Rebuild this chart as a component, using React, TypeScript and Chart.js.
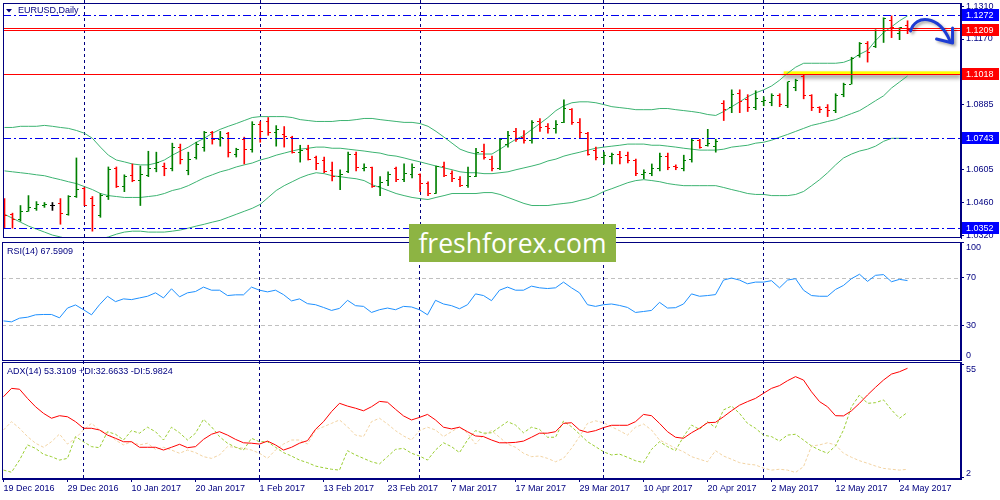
import { useEffect, useRef } from "react"
import { Chart, registerables } from "chart.js"

Chart.register(...registerables)

// EURUSD daily, 19 Dec 2016 .. 25 May 2017 (bar index 0..113)
const priceOpen = [
  1.047, 1.0411, 1.039, 1.0424, 1.0437, 1.0449, 1.0449, 1.0458, 1.0411, 1.0488,
  1.0522, 1.0479, 1.0407, 1.0488, 1.0608, 1.0531, 1.0578, 1.0556, 1.0578, 1.0608,
  1.062, 1.0608, 1.0702, 1.0599, 1.0659, 1.0702, 1.0766, 1.0736, 1.0762, 1.0672,
  1.0736, 1.0693, 1.08, 1.0812, 1.0766, 1.0757, 1.0745, 1.068, 1.0693, 1.0659,
  1.0642, 1.0599, 1.0574, 1.0595, 1.0672, 1.0608, 1.0612, 1.0531, 1.0556, 1.0608,
  1.0561, 1.0582, 1.0582, 1.0544, 1.0501, 1.0616, 1.0586, 1.0561, 1.0535, 1.0574,
  1.0684, 1.065, 1.0608, 1.0715, 1.077, 1.0745, 1.0732, 1.0812, 1.0791, 1.0783,
  1.0808, 1.0864, 1.0808, 1.0762, 1.0689, 1.0659, 1.0663, 1.0672, 1.0667, 1.0646,
  1.0582, 1.0586, 1.0608, 1.0663, 1.062, 1.0608, 1.065, 1.0732, 1.071, 1.0706,
  1.089, 1.0873, 1.0933, 1.0907, 1.0873, 1.0899, 1.0894, 1.0924, 1.0881, 1.0962,
  1.1009, 1.0924, 1.0873, 1.0873, 1.086, 1.0929, 1.0975, 1.11, 1.115, 1.1137,
  1.1206, 1.1249, 1.1193, 1.1227,
]
const priceHigh = [
  1.0479, 1.0416, 1.0449, 1.0492, 1.0466, 1.0462, 1.0462, 1.0479, 1.0492, 1.0655,
  1.0527, 1.0488, 1.0501, 1.0616, 1.0616, 1.0582, 1.0629, 1.062, 1.0684, 1.068,
  1.0633, 1.0719, 1.0715, 1.068, 1.0723, 1.077, 1.077, 1.077, 1.0766, 1.0697,
  1.0745, 1.0812, 1.0812, 1.083, 1.0795, 1.0791, 1.0749, 1.071, 1.071, 1.0663,
  1.0659, 1.0637, 1.0604, 1.068, 1.068, 1.0629, 1.0616, 1.0574, 1.0595, 1.0616,
  1.0629, 1.0629, 1.0586, 1.0552, 1.062, 1.0637, 1.0599, 1.0574, 1.0616, 1.0697,
  1.0715, 1.0663, 1.0736, 1.077, 1.0783, 1.0774, 1.0817, 1.0825, 1.0804, 1.0817,
  1.0907, 1.0869, 1.0825, 1.0766, 1.0702, 1.068, 1.0676, 1.0684, 1.068, 1.065,
  1.0604, 1.0629, 1.0676, 1.0676, 1.0625, 1.0667, 1.0736, 1.0736, 1.0779, 1.0736,
  1.0903, 1.095, 1.095, 1.0929, 1.0946, 1.092, 1.0933, 1.0933, 1.0984, 1.0996,
  1.1014, 1.0929, 1.0877, 1.0886, 1.0933, 1.0979, 1.1091, 1.1155, 1.1159, 1.121,
  1.1262, 1.127, 1.1219, 1.1249,
]
const priceLow = [
  1.0351, 1.0351, 1.0381, 1.0424, 1.0428, 1.0441, 1.0428, 1.0368, 1.0407, 1.0484,
  1.0449, 1.0338, 1.0398, 1.0475, 1.0527, 1.0509, 1.0552, 1.0449, 1.0574, 1.0595,
  1.0578, 1.0599, 1.0629, 1.0582, 1.065, 1.0684, 1.0715, 1.0706, 1.0659, 1.0659,
  1.0629, 1.068, 1.0723, 1.0753, 1.0706, 1.0702, 1.0676, 1.0637, 1.0646, 1.0604,
  1.0591, 1.0556, 1.0518, 1.0591, 1.0599, 1.0599, 1.0527, 1.0492, 1.0535, 1.0552,
  1.0552, 1.0569, 1.0509, 1.0492, 1.0501, 1.0574, 1.0552, 1.0531, 1.0527, 1.0574,
  1.065, 1.0599, 1.0604, 1.0702, 1.0727, 1.0719, 1.0719, 1.077, 1.0762, 1.0762,
  1.0808, 1.08, 1.074, 1.0667, 1.0646, 1.0629, 1.0629, 1.0629, 1.0633, 1.0578,
  1.0565, 1.0578, 1.0599, 1.0604, 1.0604, 1.0599, 1.0637, 1.0697, 1.0706, 1.068,
  1.0817, 1.0851, 1.0851, 1.0856, 1.0864, 1.0881, 1.0881, 1.0877, 1.0873, 1.0946,
  1.0911, 1.086, 1.0851, 1.0834, 1.0851, 1.092, 1.0975, 1.1091, 1.107, 1.1133,
  1.1155, 1.1176, 1.1167, 1.1193,
]
const priceClose = [
  1.0407, 1.039, 1.0424, 1.0441, 1.0453, 1.0453, 1.0449, 1.0416, 1.0488, 1.0518,
  1.0449, 1.0449, 1.0492, 1.0604, 1.0531, 1.0574, 1.0556, 1.0582, 1.0608, 1.0637,
  1.0608, 1.0702, 1.065, 1.065, 1.0715, 1.0766, 1.0736, 1.0745, 1.068, 1.0693,
  1.0693, 1.08, 1.077, 1.0766, 1.0779, 1.0749, 1.068, 1.0689, 1.065, 1.0629,
  1.0595, 1.0574, 1.0582, 1.0672, 1.0612, 1.0612, 1.0531, 1.0548, 1.0582, 1.0561,
  1.0586, 1.0612, 1.0544, 1.0501, 1.062, 1.0578, 1.0565, 1.0535, 1.0574, 1.068,
  1.0659, 1.0608, 1.0736, 1.0753, 1.0736, 1.0732, 1.0808, 1.0787, 1.0783, 1.08,
  1.0869, 1.0808, 1.0766, 1.0672, 1.0659, 1.0667, 1.0672, 1.0659, 1.0646, 1.0586,
  1.0591, 1.0608, 1.0663, 1.0612, 1.0612, 1.0646, 1.0732, 1.0702, 1.0719, 1.0727,
  1.0864, 1.0929, 1.0899, 1.0873, 1.0911, 1.0903, 1.0924, 1.0886, 1.0984, 1.0992,
  1.0924, 1.0873, 1.0864, 1.086, 1.0924, 1.0975, 1.1087, 1.115, 1.1112, 1.1206,
  1.1257, 1.1219, 1.1219, 1.121,
]

// Bollinger bands
const bbUpper = [
  1.0787, 1.0787, 1.0792, 1.0792, 1.0792, 1.0796, 1.0792, 1.0787, 1.0783, 1.0774,
  1.0762, 1.074, 1.0702, 1.0667, 1.0646, 1.0638, 1.0629, 1.0625, 1.0625, 1.0633,
  1.0646, 1.0667, 1.0685, 1.0702, 1.0723, 1.074, 1.0762, 1.0779, 1.0792, 1.0804,
  1.0817, 1.083, 1.0834, 1.0834, 1.0834, 1.0834, 1.083, 1.0821, 1.0817, 1.0813,
  1.0813, 1.0813, 1.0817, 1.0817, 1.0821, 1.0826, 1.0826, 1.0821, 1.0817, 1.0813,
  1.0809, 1.0809, 1.0804, 1.0792, 1.077, 1.0745, 1.0719, 1.0693, 1.068, 1.0672,
  1.0672, 1.0672, 1.0693, 1.0715, 1.0736, 1.0753, 1.0779, 1.0804, 1.083, 1.086,
  1.0881, 1.0894, 1.0898, 1.0898, 1.0894, 1.0886, 1.0877, 1.0873, 1.0869, 1.0864,
  1.0864, 1.0864, 1.0869, 1.0869, 1.0864, 1.086, 1.0856, 1.0851, 1.0843, 1.0839,
  1.0856, 1.0877, 1.0898, 1.092, 1.0937, 1.095, 1.0967, 1.0992, 1.1022, 1.1048,
  1.1065, 1.1065, 1.1065, 1.1065, 1.1065, 1.1069, 1.1082, 1.1104, 1.1121, 1.1163,
  1.1198, 1.1223, 1.1249, 1.127,
]
const bbMiddle = [
  1.0599, 1.0595, 1.0591, 1.0587, 1.0582, 1.0578, 1.0569, 1.0561, 1.0552, 1.0544,
  1.0531, 1.0518, 1.0501, 1.0492, 1.0488, 1.0484, 1.0484, 1.0484, 1.0488, 1.0492,
  1.0501, 1.0514, 1.0522, 1.0535, 1.0552, 1.0569, 1.0582, 1.0595, 1.0604, 1.0616,
  1.0625, 1.0633, 1.0646, 1.0655, 1.0667, 1.0676, 1.0685, 1.0693, 1.0697, 1.0702,
  1.0702, 1.0697, 1.0697, 1.0693, 1.0689, 1.0685, 1.068, 1.0676, 1.0667, 1.0663,
  1.0655, 1.0646, 1.0638, 1.0629, 1.062, 1.0612, 1.0604, 1.0595, 1.0591, 1.0591,
  1.0587, 1.0587, 1.0591, 1.0595, 1.0604, 1.0612, 1.062, 1.0629, 1.0642, 1.065,
  1.0663, 1.0672, 1.068, 1.0689, 1.0697, 1.0702, 1.0706, 1.071, 1.0715, 1.0715,
  1.0715, 1.071, 1.071, 1.0706, 1.0702, 1.0697, 1.0693, 1.0689, 1.0689, 1.0689,
  1.0693, 1.0702, 1.0706, 1.071, 1.0719, 1.0723, 1.0732, 1.0745, 1.0757, 1.077,
  1.0783, 1.0796, 1.0804, 1.0813, 1.0821, 1.0834, 1.0847, 1.086, 1.0881, 1.0903,
  1.0924, 1.0958, 1.0984, 1.101,
]
const bbLower = [
  1.0411, 1.0394, 1.0377, 1.036, 1.0347, 1.0334, 1.0321, 1.0313, 1.0304, 1.03,
  1.0296, 1.03, 1.0304, 1.0313, 1.0325, 1.0334, 1.0338, 1.0338, 1.0334, 1.0334,
  1.0334, 1.0338, 1.0343, 1.0351, 1.036, 1.0368, 1.0377, 1.0385, 1.0398, 1.0411,
  1.0424, 1.0437, 1.0454, 1.0484, 1.0514, 1.0535, 1.0552, 1.0569, 1.0582, 1.0591,
  1.0587, 1.0578, 1.0574, 1.0569, 1.0565, 1.0557, 1.0539, 1.0527, 1.0514, 1.0501,
  1.0492, 1.0484, 1.0479, 1.0475, 1.0484, 1.0492, 1.0501, 1.0501, 1.0501, 1.0501,
  1.0505, 1.0505, 1.0497, 1.0484, 1.0471, 1.0458, 1.0449, 1.0449, 1.0449, 1.0454,
  1.0458, 1.0462, 1.0471, 1.0479, 1.0492, 1.051, 1.0522, 1.0535, 1.0548, 1.0557,
  1.0561, 1.0557, 1.0552, 1.0544, 1.0539, 1.0535, 1.0535, 1.0535, 1.0535, 1.0535,
  1.0527, 1.0518, 1.051, 1.0501, 1.0497, 1.0497, 1.0492, 1.0492, 1.0492, 1.0497,
  1.051, 1.0535, 1.0561, 1.0591, 1.0625, 1.0655, 1.0672, 1.0685, 1.0693, 1.0706,
  1.0727, 1.074, 1.074, 1.074,
]

const rsi = [
  33.7, 32.9, 36.0, 36.8, 38.8, 39.1, 39.1, 36.3, 44.5, 47.1,
  43.1, 38.8, 47.3, 54.4, 49.9, 52.2, 51.6, 53.0, 54.4, 57.3,
  53.0, 60.7, 53.9, 57.3, 58.4, 62.1, 59.5, 59.5, 55.0, 55.6,
  55.6, 62.1, 59.5, 58.1, 59.5, 55.8, 50.5, 52.2, 48.2, 47.3,
  45.0, 42.5, 44.2, 51.0, 46.5, 45.9, 40.8, 43.1, 44.5, 43.1,
  45.9, 45.4, 43.1, 38.8, 51.0, 47.9, 46.5, 43.9, 47.3, 56.4,
  55.0, 50.7, 59.5, 62.1, 59.5, 59.5, 62.9, 61.5, 60.9, 61.5,
  66.3, 61.5, 57.3, 47.3, 45.9, 47.3, 47.9, 46.7, 45.0, 40.8,
  41.6, 42.5, 49.3, 44.5, 44.8, 47.9, 56.4, 54.4, 55.0, 55.8,
  68.0, 69.7, 68.0, 64.9, 66.3, 66.3, 67.5, 61.5, 68.0, 69.2,
  59.5, 55.0, 54.4, 54.4, 60.1, 63.5, 69.2, 72.9, 66.9, 72.0,
  72.6, 66.6, 68.6, 67.59,
]
const adx = [
  40.0, 43.9, 43.5, 39.2, 35.3, 32.2, 29.9, 31.1, 30.6, 28.3,
  25.2, 25.2, 24.4, 22.0, 20.5, 18.9, 18.9, 16.3, 16.3, 16.3,
  15.0, 16.3, 17.7, 16.1, 16.6, 20.0, 22.4, 23.6, 22.0, 20.0,
  18.4, 18.2, 17.8, 19.2, 17.4, 15.0, 16.3, 18.2, 19.4, 24.7,
  28.3, 33.0, 36.9, 35.6, 34.6, 33.4, 35.3, 37.8, 37.4, 34.1,
  31.0, 29.1, 30.3, 31.7, 29.1, 25.7, 24.9, 25.7, 23.6, 21.6,
  21.3, 19.7, 18.4, 18.4, 18.6, 19.2, 21.0, 22.9, 22.9, 23.6,
  27.5, 27.8, 24.4, 23.3, 24.1, 25.5, 26.6, 26.6, 26.6, 28.3,
  31.7, 31.1, 27.5, 23.6, 21.0, 20.5, 23.1, 25.2, 27.8, 28.0,
  30.6, 33.4, 36.0, 37.7, 39.2, 41.6, 43.9, 45.2, 47.5, 49.4,
  47.8, 42.3, 37.7, 35.3, 31.1, 31.0, 33.4, 36.9, 40.8, 44.4,
  47.8, 50.6, 51.7, 53.31,
]
const plusDi = [
  5.6, 4.6, 10.3, 17.4, 15.8, 13.0, 11.9, 10.3, 11.1, 21.3,
  18.9, 16.6, 16.1, 23.6, 22.4, 19.7, 24.1, 22.9, 25.7, 23.6,
  19.7, 25.7, 23.1, 19.7, 22.9, 29.4, 25.9, 21.3, 18.2, 16.3,
  15.0, 20.5, 18.9, 18.9, 16.3, 13.8, 12.2, 10.3, 9.1, 7.5,
  6.7, 6.0, 5.6, 14.7, 12.7, 11.1, 9.5, 8.5, 11.9, 15.3,
  15.8, 13.5, 12.2, 10.3, 15.0, 18.4, 16.6, 13.8, 19.7, 24.1,
  22.9, 23.1, 25.7, 28.3, 26.7, 23.1, 25.7, 24.7, 21.0, 21.0,
  28.6, 25.9, 22.5, 18.9, 16.6, 14.2, 12.7, 13.1, 11.6, 10.0,
  9.1, 15.3, 18.9, 16.6, 14.7, 21.3, 26.7, 24.7, 28.3, 25.5,
  33.8, 35.6, 32.2, 27.5, 25.2, 22.0, 21.3, 19.2, 22.0, 22.4,
  19.7, 16.9, 15.0, 13.5, 16.9, 24.4, 35.3, 40.8, 36.9, 37.2,
  38.5, 33.8, 29.9, 32.66,
]
const minusDi = [
  24.4, 28.3, 25.2, 21.3, 18.2, 16.3, 18.9, 22.5, 17.8, 20.5,
  24.4, 27.5, 24.4, 22.9, 19.7, 17.4, 18.9, 17.4, 18.2, 15.3,
  16.3, 15.0, 13.5, 15.0, 13.8, 11.9, 11.1, 12.7, 16.6, 16.3,
  15.8, 15.0, 13.5, 11.1, 15.0, 17.8, 19.7, 19.7, 17.8, 24.4,
  25.9, 27.5, 29.1, 25.9, 22.0, 21.3, 28.3, 29.9, 27.2, 24.1,
  21.6, 19.7, 24.1, 25.7, 24.4, 21.3, 23.6, 25.9, 22.9, 17.8,
  22.0, 24.1, 21.0, 17.8, 16.3, 13.5, 11.9, 12.2, 11.1, 9.5,
  11.1, 15.8, 21.3, 27.5, 28.7, 27.8, 25.9, 24.1, 22.0, 25.7,
  27.2, 24.4, 19.7, 17.8, 15.8, 14.2, 11.9, 10.7, 9.5, 14.7,
  12.2, 10.7, 9.1, 8.4, 8.0, 6.5, 5.6, 6.0, 5.6, 4.5,
  7.2, 16.9, 17.4, 18.4, 17.4, 13.5, 11.6, 10.0, 8.8, 7.5,
  6.4, 6.0, 5.6, 5.98,
]

const tickBars = [0, 8, 16, 24, 32, 40, 48, 56, 64, 72, 80, 88, 96, 104, 112]
const tickLabels = [
  "19 Dec 2016", "29 Dec 2016", "10 Jan 2017", "20 Jan 2017", "1 Feb 2017",
  "13 Feb 2017", "23 Feb 2017", "7 Mar 2017", "17 Mar 2017", "29 Mar 2017",
  "10 Apr 2017", "20 Apr 2017", "2 May 2017", "12 May 2017", "24 May 2017",
]
const monthStarts = [10, 32, 52, 75, 95]
const priceTicks = [1.131, 1.117, 1.103, 1.0885, 1.0745, 1.0605, 1.046, 1.032]
const rsiTicks = [0, 30, 70, 100]
const rsiLevels = [30, 70]
const adxTicks = [2, 55]

const redLevels = [1.1218, 1.1209, 1.1018]
const blueLevels = [1.1272, 1.0743, 1.0352]
const redTags = [1.1209, 1.1018]
const blueTags = [1.1272, 1.0743, 1.0352]
const zoneFromBar = 97.5
const zonePrices = [1.1014, 1.103]

const X_MIN = -0.1875
const X_MAX = 119.6875
const PRICE_MIN = 1.03084
const PRICE_MAX = 1.13259
const ADX_MIN = 1.43
const ADX_MAX = 56.26

const NAVY = "#000080"
const GREEN = "#008000"
const RED = "#ff0000"
const BLUE = "#0000ee"
const BAND = "#3cb371"
const FAMILY = "'Liberation Sans', Arial, sans-serif"
const FONT = { family: FAMILY, size: 9 }

const xAxis = (show: boolean) => ({
  type: "linear",
  min: X_MIN,
  max: X_MAX,
  offset: false,
  display: show,
  afterBuildTicks: (s: any) => {
    s.ticks = tickBars.map((v) => ({ value: v }))
  },
  afterFit: (s: any) => {
    if (show) s.height = 21
    s.paddingLeft = 0
    s.paddingRight = 0
  },
  ticks: {
    autoSkip: false,
    maxRotation: 0,
    minRotation: 0,
    align: "start",
    padding: 1,
    color: NAVY,
    font: FONT,
    callback: (_v: any, i: number) => tickLabels[i],
  },
  grid: { drawOnChartArea: false, drawTicks: true, tickLength: 3, color: NAVY },
  border: { display: true, color: NAVY },
})

const yAxis = (min: number, max: number, ticks: number[], label: (v: number) => string) => ({
  type: "linear",
  position: "right",
  min,
  max,
  afterBuildTicks: (s: any) => {
    s.ticks = ticks.map((v) => ({ value: v }))
  },
  afterFit: (s: any) => {
    s.width = 39
    s.paddingTop = 0
    s.paddingBottom = 0
  },
  ticks: { color: NAVY, font: FONT, padding: 2, autoSkip: false, callback: (v: any) => label(Number(v)) },
  grid: { drawOnChartArea: false, drawTicks: true, tickLength: 3, color: NAVY },
  border: { display: true, color: NAVY },
})

function drawSeparators(chart: any) {
  const { ctx, chartArea, scales } = chart
  ctx.save()
  ctx.strokeStyle = NAVY
  ctx.lineWidth = 1
  ctx.setLineDash([3, 3])
  for (const m of monthStarts) {
    const x = Math.floor(scales.x.getPixelForValue(m)) + 0.5
    ctx.beginPath()
    ctx.moveTo(x, 0)
    ctx.lineTo(x, chartArea.bottom)
    ctx.stroke()
  }
  ctx.restore()
}

function drawFrame(chart: any) {
  const { ctx, chartArea } = chart
  ctx.save()
  ctx.strokeStyle = NAVY
  ctx.lineWidth = 1
  ctx.setLineDash([])
  ctx.strokeRect(chartArea.left + 0.5, chartArea.top + 0.5, chartArea.right - chartArea.left - 1, chartArea.bottom - chartArea.top - 1)
  ctx.restore()
}

function drawText(chart: any, text: string, x: number, y: number, baseline: string, color = NAVY) {
  const ctx = chart.ctx
  ctx.save()
  ctx.font = `9px ${FAMILY}`
  ctx.fillStyle = color
  ctx.textAlign = "left"
  ctx.textBaseline = baseline
  ctx.fillText(text, x, y)
  ctx.restore()
}

const pricePanePlugin = {
  id: "pricePane",
  beforeDatasetsDraw(chart: any) {
    const { ctx, chartArea, scales } = chart
    drawSeparators(chart)
    // highlighted resistance zone
    const x0 = scales.x.getPixelForValue(zoneFromBar)
    const yTop = scales.y.getPixelForValue(zonePrices[1])
    const yBot = scales.y.getPixelForValue(zonePrices[0])
    ctx.save()
    ctx.shadowColor = "rgba(0,0,0,0.45)"
    ctx.shadowBlur = 4
    ctx.shadowOffsetY = 3
    ctx.fillStyle = "#ffff00"
    ctx.fillRect(x0, yTop, chartArea.right - x0, yBot - yTop)
    ctx.restore()
    // keep the open/close tick images sharp
    ctx.imageSmoothingEnabled = false
  },
  afterDatasetsDraw(chart: any) {
    const { ctx, chartArea, scales } = chart
    ctx.imageSmoothingEnabled = true
    ctx.save()
    ctx.lineWidth = 1
    ctx.strokeStyle = RED
    for (const v of redLevels) {
      const y = Math.round(scales.y.getPixelForValue(v)) + 0.5
      ctx.beginPath()
      ctx.moveTo(chartArea.left, y)
      ctx.lineTo(chartArea.right, y)
      ctx.stroke()
    }
    ctx.strokeStyle = BLUE
    ctx.setLineDash([8, 3, 2, 3])
    for (const v of blueLevels) {
      const y = Math.round(scales.y.getPixelForValue(v)) + 0.5
      ctx.beginPath()
      ctx.moveTo(chartArea.left, y)
      ctx.lineTo(chartArea.right, y)
      ctx.stroke()
    }
    ctx.restore()
  },
  afterDraw(chart: any) {
    const { ctx, chartArea, scales } = chart
    drawFrame(chart)
    // price tags on the axis
    const tag = (v: number, bg: string) => {
      const y = Math.round(scales.y.getPixelForValue(v))
      ctx.save()
      ctx.fillStyle = bg
      ctx.fillRect(chartArea.right + 1, y - 6, 37, 12)
      ctx.restore()
      drawText(chart, v.toFixed(4), chartArea.right + 5, y + 0.5, "middle", "#ffffff")
    }
    redTags.forEach((v) => tag(v, RED))
    blueTags.forEach((v) => tag(v, "#0000ff"))

    // hand-drawn arrow after the last bar
    const lx = scales.x.getPixelForValue(priceClose.length - 1)
    const ly = scales.y.getPixelForValue(redTags[0])
    ctx.save()
    ctx.strokeStyle = "#1c3cd4"
    ctx.lineWidth = 3
    ctx.lineCap = "round"
    ctx.lineJoin = "round"
    ctx.shadowColor = "rgba(0,0,0,0.35)"
    ctx.shadowBlur = 3
    ctx.shadowOffsetX = 2
    ctx.shadowOffsetY = 2
    ctx.beginPath()
    ctx.moveTo(lx + 3, ly + 1)
    ctx.bezierCurveTo(lx + 8, ly - 16, lx + 31, ly - 15, lx + 42, ly + 10)
    ctx.stroke()
    ctx.beginPath()
    ctx.moveTo(lx + 45, ly - 2)
    ctx.lineTo(lx + 45, ly + 13)
    ctx.lineTo(lx + 29, ly + 9)
    ctx.stroke()
    ctx.restore()

    // title
    ctx.save()
    ctx.fillStyle = NAVY
    ctx.beginPath()
    ctx.moveTo(6, 9)
    ctx.lineTo(12, 9)
    ctx.lineTo(9, 12.5)
    ctx.closePath()
    ctx.fill()
    ctx.restore()
    drawText(chart, "EURUSD,Daily", 18, 11, "middle")
  },
}

const rsiPanePlugin = {
  id: "rsiPane",
  beforeDatasetsDraw(chart: any) {
    const { ctx, chartArea, scales } = chart
    drawSeparators(chart)
    ctx.save()
    ctx.strokeStyle = "#c0c0c0"
    ctx.lineWidth = 1
    ctx.setLineDash([4, 3])
    for (const v of rsiLevels) {
      const y = Math.round(scales.y.getPixelForValue(v)) + 0.5
      ctx.beginPath()
      ctx.moveTo(chartArea.left, y)
      ctx.lineTo(chartArea.right, y)
      ctx.stroke()
    }
    ctx.restore()
  },
  afterDraw(chart: any) {
    const { chartArea, scales } = chart
    drawFrame(chart)
    drawText(chart, "RSI(14) 67.5909", 7, chartArea.top + 9.5, "middle")
    drawText(chart, "100", chartArea.right + 5, scales.y.getPixelForValue(100) + 1, "top")
    drawText(chart, "0", chartArea.right + 5, scales.y.getPixelForValue(0) - 1, "bottom")
  },
}

const adxPanePlugin = {
  id: "adxPane",
  beforeDatasetsDraw(chart: any) {
    drawSeparators(chart)
  },
  afterDraw(chart: any) {
    const { chartArea, scales } = chart
    drawFrame(chart)
    drawText(chart, "ADX(14) 53.3109 +DI:32.6633 -DI:5.9824", 7, chartArea.top + 9.5, "middle")
    drawText(chart, String(adxTicks[1]), chartArea.right + 5, scales.y.getPixelForValue(adxTicks[1]), "top")
    drawText(chart, String(adxTicks[0]), chartArea.right + 5, scales.y.getPixelForValue(adxTicks[0]), "bottom")
  },
}

const xy = (arr: number[]) => arr.map((v, i) => ({ x: i, y: v }))

const lineSet = (data: number[], color: string, dash: number[] = []) => ({
  type: "line",
  data: xy(data),
  borderColor: color,
  borderWidth: 1,
  borderDash: dash,
  pointRadius: 0,
  pointHoverRadius: 0,
  tension: 0,
  fill: false,
})

const common = {
  responsive: false,
  animation: false,
  events: [],
  plugins: { legend: { display: false }, tooltip: { enabled: false } },
}

export default function App() {
  const priceRef = useRef<HTMLCanvasElement>(null)
  const rsiRef = useRef<HTMLCanvasElement>(null)
  const adxRef = useRef<HTMLCanvasElement>(null)

  useEffect(() => {
    if (!priceRef.current || !rsiRef.current || !adxRef.current) return

    const barColors = priceClose.map((c, i) => (c > priceOpen[i] ? GREEN : c < priceOpen[i] ? RED : "#000000"))

    // small open / close ticks used as point images (7px wide, bar column in the middle)
    const tickCache: Record<string, HTMLCanvasElement> = {}
    const tickImg = (color: string, side: "open" | "close") => {
      const key = color + side
      if (!tickCache[key]) {
        const c = document.createElement("canvas")
        c.width = 7
        c.height = 1
        const g = c.getContext("2d")!
        g.fillStyle = color
        g.fillRect(side === "open" ? 1 : 4, 0, 2, 1)
        tickCache[key] = c
      }
      return tickCache[key]
    }

    const priceChart = new Chart(priceRef.current, {
      type: "line",
      data: {
        datasets: [
          {
            type: "bar",
            data: priceHigh.map((h, i) => ({ x: i, y: [priceLow[i], h] })),
            backgroundColor: barColors,
            barThickness: 1,
            borderWidth: 0,
            grouped: false,
          },
          {
            type: "line",
            data: xy(priceOpen),
            showLine: false,
            pointStyle: barColors.map((c) => tickImg(c, "open")),
            pointRadius: 2,
            pointHoverRadius: 2,
          },
          {
            type: "line",
            data: xy(priceClose),
            showLine: false,
            pointStyle: barColors.map((c) => tickImg(c, "close")),
            pointRadius: 2,
            pointHoverRadius: 2,
          },
          lineSet(bbUpper, BAND),
          lineSet(bbMiddle, BAND),
          lineSet(bbLower, BAND),
        ],
      } as any,
      options: {
        ...common,
        layout: { padding: { left: 2, top: 2, right: 0, bottom: 1 } },
        scales: {
          x: xAxis(false),
          y: yAxis(PRICE_MIN, PRICE_MAX, priceTicks, (v) => v.toFixed(4)),
        },
      } as any,
      plugins: [pricePanePlugin],
    })

    const rsiChart = new Chart(rsiRef.current, {
      type: "line",
      data: { datasets: [lineSet(rsi, "#1e90ff")] } as any,
      options: {
        ...common,
        layout: { padding: { left: 2, top: 1, right: 0, bottom: 0 } },
        scales: {
          x: xAxis(false),
          y: yAxis(0, 100, rsiTicks, (v) => (rsiLevels.includes(v) ? String(v) : "")),
        },
      } as any,
      plugins: [rsiPanePlugin],
    })

    const adxChart = new Chart(adxRef.current, {
      type: "line",
      data: {
        datasets: [
          lineSet(adx, "#ff0000"),
          lineSet(plusDi, "#9acd32", [3, 2]),
          lineSet(minusDi, "#f2d3a2", [3, 2]),
        ],
      } as any,
      options: {
        ...common,
        layout: { padding: { left: 2, top: 1, right: 0, bottom: 0 } },
        scales: {
          x: xAxis(true),
          y: yAxis(ADX_MIN, ADX_MAX, adxTicks, () => ""),
        },
      } as any,
      plugins: [adxPanePlugin],
    })

    return () => {
      priceChart.destroy()
      rsiChart.destroy()
      adxChart.destroy()
    }
  }, [])

  return (
    <div style={{ position: "fixed", left: 0, top: 0, width: 1000, height: 500, background: "#ffffff", overflow: "hidden" }}>
      <canvas ref={priceRef} width={1000} height={241} style={{ position: "absolute", left: 0, top: 0 }} />
      <canvas ref={rsiRef} width={1000} height={120} style={{ position: "absolute", left: 0, top: 241 }} />
      <canvas ref={adxRef} width={1000} height={139} style={{ position: "absolute", left: 0, top: 361 }} />
      <div
        style={{
          position: "absolute",
          left: 409,
          top: 224,
          width: 207,
          height: 38,
          background: "#8db443",
          color: "#ffffff",
          fontFamily: "'Open Sans', sans-serif",
          fontSize: 26.5,
          lineHeight: 1,
          display: "flex",
          alignItems: "center",
          justifyContent: "center",
        }}
      >
        freshforex.com
      </div>
    </div>
  )
}
